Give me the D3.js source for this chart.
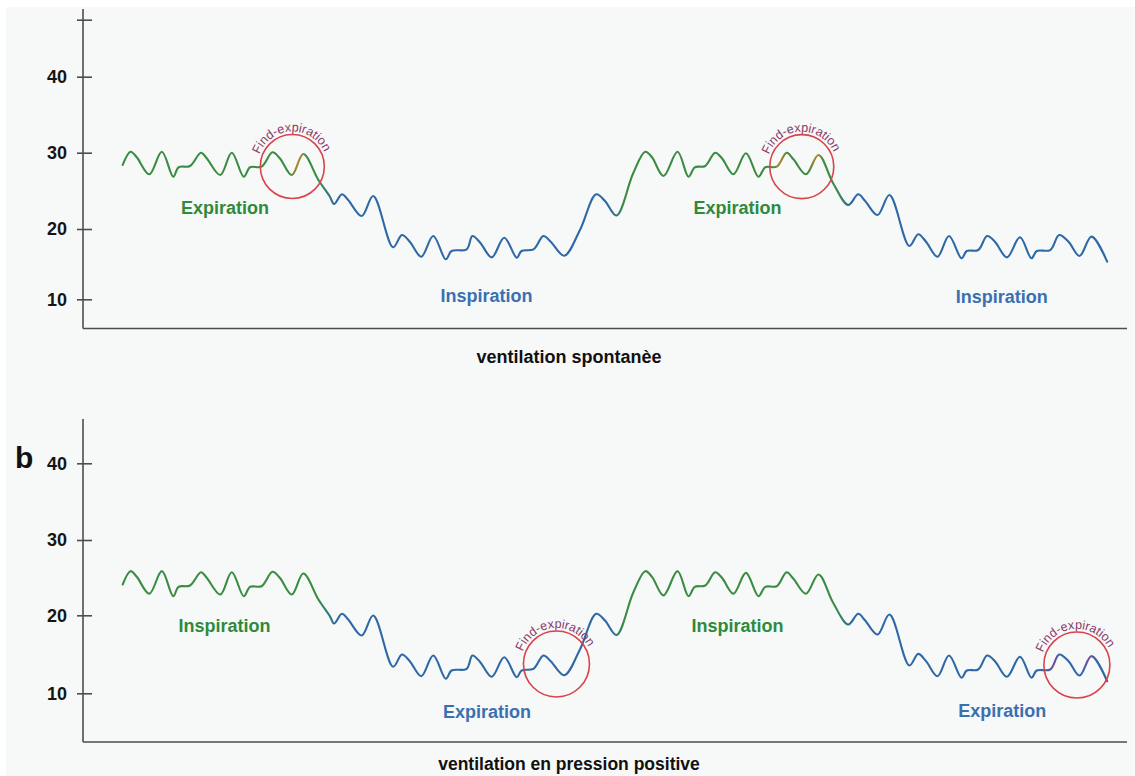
<!DOCTYPE html>
<html><head><meta charset="utf-8">
<script src="https://cdn.jsdelivr.net/npm/d3@7"></script>
<style>body{margin:0;background:#fff}text{font-family:"Liberation Sans",Arial,sans-serif}</style>
</head><body>
<svg id="c" width="1135" height="776"></svg>
<script>
// ---------- data ----------
const timeSec = [0.76,0.91,1.03,1.27,1.51,1.73,1.83,2.05,2.26,2.37,2.63,2.85,3.08,3.20,3.42,3.63,3.77,4.00,4.22,4.51,
  4.73,4.81,4.96,5.08,5.34,5.56,5.94,6.11,6.26,6.48,6.71,6.95,7.06,7.35,7.46,7.61,7.83,8.07,8.31,8.40,
  8.63,8.82,8.96,9.22,9.52,9.83,10.00,10.22,10.54,10.77,10.90,11.12,11.39,11.60,11.72,11.92,12.11,12.24,12.46,12.70,
  12.94,13.07,13.29,13.48,13.61,13.85,14.09,14.37,14.66,14.85,14.98,15.22,15.45,15.83,16.00,16.15,16.37,16.59,16.83,16.93,
  17.15,17.32,17.47,17.70,17.95,18.17,18.27,18.53,18.70,18.88,19.09,19.32,19.62];
const pressureSpontaneous = [28.39,30.13,29.40,27.17,30.13,26.85,28.09,28.26,30.00,29.27,27.08,30.00,26.85,28.09,28.17,30.05,29.27,27.08,29.83,26.42,
  24.23,23.28,24.55,23.80,21.70,24.33,17.40,19.15,18.19,16.06,19.00,15.69,16.87,17.11,19.00,18.05,15.97,18.76,15.92,16.87,
  17.11,19.00,18.19,16.20,19.86,24.55,23.67,21.77,27.30,30.13,29.40,26.95,30.13,26.85,28.09,28.26,30.00,29.27,27.17,29.92,
  26.85,28.09,28.17,30.00,29.13,27.17,29.70,25.99,23.15,24.55,23.71,21.83,24.46,17.58,19.25,18.19,16.06,19.00,15.83,16.87,
  17.01,19.00,18.19,15.97,18.82,15.83,16.87,17.01,19.15,18.19,16.16,18.91,15.35];
const pressurePositive = [24.09,25.86,25.11,22.86,25.86,22.54,23.78,23.96,25.72,24.98,22.76,25.72,22.54,23.78,23.86,25.78,24.98,22.76,25.55,22.10,
  19.88,18.95,20.20,19.46,17.41,19.97,13.40,14.97,14.12,12.19,14.85,11.86,12.92,13.14,14.85,13.99,12.12,14.63,12.06,12.92,
  13.14,14.85,14.12,12.32,15.62,20.20,19.33,17.47,22.99,25.86,25.11,22.64,25.86,22.54,23.78,23.96,25.72,24.98,22.86,25.64,
  22.54,23.78,23.86,25.72,24.85,22.86,25.42,21.66,18.82,20.20,19.37,17.54,20.11,13.56,15.06,14.12,12.19,14.85,11.99,12.92,
  13.05,14.85,14.12,12.12,14.68,11.99,12.92,13.05,14.97,14.12,12.28,14.76,11.55];
const yTickValues = [10, 20, 30, 40];
const topExtraTick = 47.5;
const topPhaseLabels = ["Expiration", "Inspiration", "Expiration", "Inspiration"];
const topPhaseT = [2.72, 7.73, 12.54, 17.60];
const topPhaseV = [22.75, 10.47, 22.75, 10.37];
const bottomPhaseLabels = ["Inspiration", "Expiration", "Inspiration", "Expiration"];
const bottomPhaseT = [2.71, 7.74, 12.54, 17.61];
const bottomPhaseV = [18.63, 7.64, 18.63, 7.73];
const topCircleT = [4.01, 13.77];
const topCircleV = [28.19, 28.17];
const bottomCircleT = [9.07, 19.04];
const bottomCircleV = [13.76, 13.63];
const annotationText = "Find-expiration";
const captions = ["ventilation spontanèe", "ventilation en pression positive"];
const panelLetter = "b";

// ---------- styles ----------
const GREEN = "#3a8c42", BLUE = "#2e68a6", ORANGE = "#b5842f", PURPLE = "#7b4a9c";
const LABEL_GREEN = "#2f8a3c", LABEL_BLUE = "#3a70b0";
const AXIS = "#4d4d4d", RED = "#d9444c", ARC_TEXT = "#8a3a68";

const svg = d3.select("#c");
svg.append("rect").attr("x", 6).attr("y", 7).attr("width", 1129).attr("height", 769).attr("fill", "#f7f8f8");

const x = d3.scaleLinear().domain([0, 20]).range([83, 1127]);

function drawPanel(o) {
  const g = svg.append("g");
  const y = d3.scaleLinear().domain(yTickValues).range(o.yRange);
  const gid = o.id + "grad";
  const grad = svg.append("defs").append("linearGradient").attr("id", gid)
    .attr("gradientUnits", "userSpaceOnUse").attr("x1", x(0)).attr("x2", x(20)).attr("y1", 0).attr("y2", 0);
  o.stops.forEach(s => grad.append("stop").attr("offset", s[0] / 20).attr("stop-color", s[1]));

  const ax = g.append("g").attr("transform", `translate(${x(0)},0)`)
    .call(d3.axisLeft(y).tickValues(o.ticks).tickFormat(d => yTickValues.includes(d) ? d : "").tickSize(6).tickPadding(16));
  ax.select(".domain").remove();
  ax.selectAll(".tick line").attr("x1", 9).attr("x2", -6).attr("stroke", AXIS).attr("stroke-width", 1.6);
  ax.selectAll(".tick text").attr("x", -16).attr("font-size", 18).attr("font-weight", "bold")
    .attr("fill", "#151515").style("font-family", '"Liberation Sans",Arial,sans-serif');
  g.append("line").attr("x1", x(0)).attr("x2", x(0)).attr("y1", o.axisTop).attr("y2", o.axisBottom)
    .attr("stroke", AXIS).attr("stroke-width", 1.6);
  g.append("line").attr("x1", x(0)).attr("x2", x(20)).attr("y1", o.axisBottom).attr("y2", o.axisBottom)
    .attr("stroke", AXIS).attr("stroke-width", 1.6);

  const line = d3.line().x(d => x(d[0])).y(d => y(d[1])).curve(d3.curveCatmullRom.alpha(0.5));
  g.append("path").datum(d3.zip(timeSec, o.values)).attr("d", line)
    .attr("fill", "none").attr("stroke", `url(#${gid})`).attr("stroke-width", 2.1)
    .attr("stroke-linejoin", "round").attr("stroke-linecap", "round");

  o.labels.forEach((lab, i) => {
    g.append("text").attr("x", x(o.labelT[i])).attr("y", y(o.labelV[i])).attr("dy", "0.35em")
      .attr("text-anchor", "middle").attr("font-size", 18).attr("font-weight", "bold")
      .attr("fill", lab === o.greenLabel ? LABEL_GREEN : LABEL_BLUE).text(lab);
  });

  o.circleT.forEach((t, i) => {
    const cx = x(t), cy = y(o.circleV[i]), r = o.r;
    g.append("circle").attr("cx", cx).attr("cy", cy).attr("r", r)
      .attr("fill", "none").attr("stroke", RED).attr("stroke-width", 1.6);
    const R = r + 3, a0 = -160 * Math.PI / 180, a1 = -5 * Math.PI / 180;
    const pid = o.id + "arc" + i;
    g.append("path").attr("id", pid).attr("fill", "none")
      .attr("d", `M${cx + R * Math.cos(a0)},${cy + R * Math.sin(a0)} A${R},${R} 0 0 1 ${cx + R * Math.cos(a1)},${cy + R * Math.sin(a1)}`);
    g.append("text").attr("font-size", 12.5).attr("fill", ARC_TEXT)
      .append("textPath").attr("href", "#" + pid).attr("startOffset", 0).text(annotationText);
  });

  g.append("text").attr("x", 569).attr("y", o.captionY).attr("text-anchor", "middle")
    .attr("font-size", o.captionSize).attr("font-weight", "bold").attr("fill", "#111").text(o.caption);
  return y;
}

drawPanel({
  id: "top", yRange: [299.3, 229, 152.7, 76.7], ticks: yTickValues.concat([topExtraTick]),
  axisTop: 9, axisBottom: 328.5, values: pressureSpontaneous,
  stops: [[0, GREEN], [3.95, GREEN], [4.12, ORANGE], [4.3, GREEN], [4.5, GREEN], [4.85, BLUE], [10.12, BLUE], [10.35, GREEN],
          [13.2, GREEN], [13.35, ORANGE], [13.5, GREEN], [13.88, GREEN], [14.05, ORANGE], [14.2, GREEN], [14.4, GREEN], [14.75, BLUE], [20, BLUE]],
  labels: topPhaseLabels, labelT: topPhaseT, labelV: topPhaseV, greenLabel: "Expiration",
  circleT: topCircleT, circleV: topCircleV, r: 32, caption: captions[0], captionY: 363, captionSize: 18
});
drawPanel({
  id: "bot", yRange: [693.3, 615.3, 540, 463.3], ticks: yTickValues,
  axisTop: 419, axisBottom: 742, values: pressurePositive,
  stops: [[0, GREEN], [4.5, GREEN], [4.85, BLUE], [10.12, BLUE], [10.35, GREEN], [14.4, GREEN], [14.75, BLUE],
          [18.45, BLUE], [18.58, PURPLE], [18.72, BLUE], [19.15, BLUE], [19.28, PURPLE], [19.42, BLUE], [20, BLUE]],
  labels: bottomPhaseLabels, labelT: bottomPhaseT, labelV: bottomPhaseV, greenLabel: "Inspiration",
  circleT: bottomCircleT, circleV: bottomCircleV, r: 33, caption: captions[1], captionY: 770, captionSize: 17.5
});
svg.append("text").attr("x", 15).attr("y", 468).attr("font-size", 30).attr("font-weight", "bold")
  .attr("fill", "#111").text(panelLetter);
</script>
</body></html>
